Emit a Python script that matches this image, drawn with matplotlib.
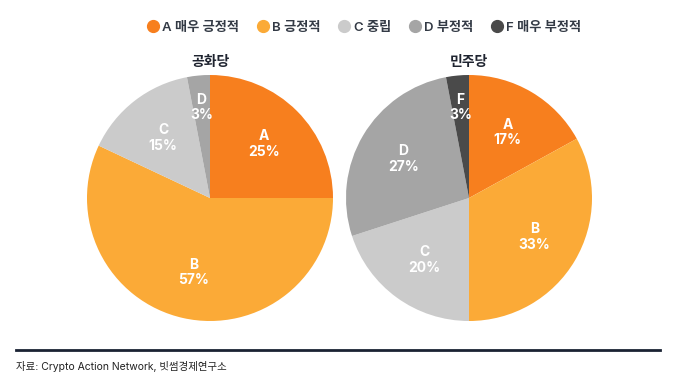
import matplotlib.pyplot as plt
import numpy as np
from matplotlib.lines import Line2D

plt.rcParams['font.family'] = ['Inter', 'Noto Sans CJK KR', 'DejaVu Sans']

# data
categories = ['A', 'B', 'C', 'D', 'F']
legend_labels = ['A 매우 긍정적', 'B 긍정적', 'C 중립', 'D 부정적', 'F 매우 부정적']
colors = ['#F77F1E', '#FBAA37', '#CBCBCB', '#A5A5A5', '#4A4A4A']

rep_title = '공화당'
rep_values = [25, 57, 15, 3]
dem_title = '민주당'
dem_values = [17, 33, 20, 27, 3]

W, H = 674, 378
fig = plt.figure(figsize=(W / 100, H / 100), dpi=100)


def draw_pie(cx, cy, r, values, title):
    ax = fig.add_axes([(cx - r) / W, (H - cy - r) / H, 2 * r / W, 2 * r / H])
    labels = [f'{categories[i]}\n{v}%' for i, v in enumerate(values)]
    wedges, texts = ax.pie(values, colors=colors[:len(values)], startangle=90,
                           counterclock=False, labels=labels, labeldistance=0.62,
                           wedgeprops=dict(linewidth=0),
                           textprops=dict(color='white', fontsize=10,
                                          fontweight='bold', linespacing=1.15))
    for w, t, v in zip(wedges, texts, values):
        t.set_ha('center')
        t.set_va('center')
        if v <= 5:
            ang = np.deg2rad((w.theta1 + w.theta2) / 2)
            t.set_position((0.74 * np.cos(ang), 0.74 * np.sin(ang)))
    ax.set_xlim(-1, 1)
    ax.set_ylim(-1, 1)
    ax.set_aspect('equal')
    fig.text(cx / W, 1 - 62 / H, title, ha='center', va='center',
             fontsize=10, fontweight='bold', color='#1f2430')


draw_pie(210, 198, 123, rep_values, rep_title)
draw_pie(469, 198, 123, dem_values, dem_title)

handles = [Line2D([], [], marker='o', linestyle='', markersize=8.5,
                  markerfacecolor=c, markeredgecolor=c) for c in colors]
fig.legend(handles, legend_labels, loc='center', bbox_to_anchor=(363 / W, 1 - 28 / H),
           ncol=5, frameon=False, handletextpad=0.1, handlelength=1.2,
           columnspacing=1.2, prop={'weight': 'semibold', 'size': 9.5},
           labelcolor='#333a45')

fig.add_artist(Line2D([16 / W, 660 / W], [1 - 350 / H, 1 - 350 / H],
                      color='#1a2233', linewidth=2))
fig.text(16 / W, 1 - 367 / H, '자료: Crypto Action Network, 빗썸경제연구소',
         ha='left', va='center', fontsize=7.5, color='#222222')

fig.savefig('out.png', dpi=100)
